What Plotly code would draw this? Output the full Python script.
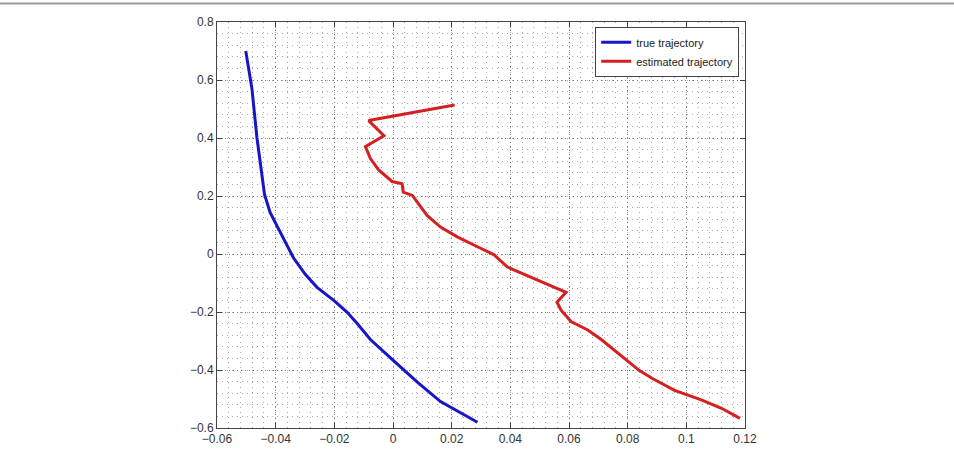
import plotly.graph_objects as go

# True trajectory (blue)
true_x = [-0.0502, -0.0481, -0.0464, -0.0447, -0.0438, -0.0419, -0.0402, -0.0373,
          -0.0339, -0.0299, -0.0259, -0.0202, -0.0157, -0.0122, -0.0077, -0.0003,
          0.0083, 0.0162, 0.0231, 0.0288]
true_y = [0.700, 0.571, 0.402, 0.278, 0.205, 0.143, 0.109, 0.053,
          -0.014, -0.070, -0.115, -0.160, -0.200, -0.240, -0.295, -0.363,
          -0.442, -0.509, -0.549, -0.580]

# Estimated trajectory (red)
est_x = [0.0210, -0.0083, -0.0031, -0.0094, -0.0077, -0.0049, -0.0003, 0.0031,
         0.0035, 0.0066, 0.0094, 0.0117, 0.0162, 0.0219, 0.0288, 0.0345,
         0.0390, 0.0436, 0.0470, 0.0527, 0.0590, 0.0559, 0.0573, 0.0607,
         0.0664, 0.0710, 0.0778, 0.0840, 0.0886, 0.0960, 0.1051, 0.1120, 0.1183]
est_y = [0.514, 0.460, 0.408, 0.370, 0.329, 0.290, 0.250, 0.242,
         0.213, 0.202, 0.163, 0.132, 0.093, 0.059, 0.025, -0.003,
         -0.045, -0.065, -0.082, -0.104, -0.132, -0.166, -0.194, -0.233,
         -0.262, -0.295, -0.351, -0.402, -0.430, -0.470, -0.503, -0.532, -0.567]

x_ticks = [-0.06, -0.04, -0.02, 0, 0.02, 0.04, 0.06, 0.08, 0.1, 0.12]
x_labels = ["\u22120.06", "\u22120.04", "\u22120.02", "0", "0.02", "0.04", "0.06", "0.08", "0.1", "0.12"]
y_ticks = [-0.6, -0.4, -0.2, 0, 0.2, 0.4, 0.6, 0.8]
y_labels = ["\u22120.6", "\u22120.4", "\u22120.2", "0", "0.2", "0.4", "0.6", "0.8"]

fig = go.Figure()
fig.add_trace(go.Scatter(x=true_x, y=true_y, mode="lines", name="true trajectory",
                         line=dict(color="#1616c8", width=3)))
fig.add_trace(go.Scatter(x=est_x, y=est_y, mode="lines", name="estimated trajectory",
                         line=dict(color="#d42020", width=3)))

axis_common = dict(
    showline=True, linecolor="#444", linewidth=1, mirror="ticks",
    ticks="inside", ticklen=5, tickcolor="#444",
    showgrid=True, gridcolor="#777", griddash="1px,3px", gridwidth=1,
    zeroline=False,
    tickfont=dict(family="Liberation Sans, Arial, sans-serif", size=12, color="#333"),
)

fig.update_xaxes(range=[-0.06, 0.12], tickvals=x_ticks, ticktext=x_labels,
                 minor=dict(dtick=0.004, tick0=-0.06, showgrid=True, gridcolor="#aaa",
                            griddash="1px,4px", gridwidth=1, ticks=""),
                 **axis_common)
fig.update_yaxes(range=[-0.6, 0.8], tickvals=y_ticks, ticktext=y_labels,
                 minor=dict(dtick=0.04, tick0=-0.6, showgrid=True, gridcolor="#aaa",
                            griddash="1px,4px", gridwidth=1, ticks=""),
                 **axis_common)

fig.update_layout(
    width=954, height=458,
    margin=dict(l=217, r=209, t=22, b=21),
    paper_bgcolor="white", plot_bgcolor="white",
    font=dict(family="Liberation Sans, Arial, sans-serif", size=12, color="#333"),
    legend=dict(x=0.989, y=0.988, xanchor="right", yanchor="top",
                bgcolor="white", bordercolor="#444", borderwidth=1,
                font=dict(size=11, color="#222"), tracegroupgap=0,
                itemwidth=30),
    shapes=[dict(type="line", xref="paper", yref="paper",
                 x0=-217/528, x1=(954-217)/528, y0=1+19/415, y1=1+19/415,
                 line=dict(color="#999", width=2))],
)

fig.write_html("out.html")
